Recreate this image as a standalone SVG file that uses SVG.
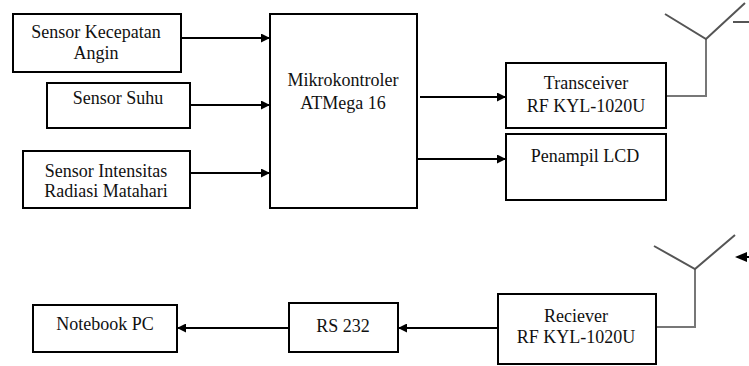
<svg xmlns="http://www.w3.org/2000/svg" width="749" height="366" viewBox="0 0 749 366">
<style>
.box{fill:#fff;stroke:#000;stroke-width:2}
.t{font-family:'Liberation Serif','Times New Roman',serif;font-size:18px;fill:#111;text-anchor:middle}
.ln{stroke:#000;stroke-width:2;fill:none}
.ant{stroke:#777;stroke-width:2;fill:none}
</style>
<defs>
<marker id="ah" viewBox="0 0 10 10" refX="10" refY="5" markerWidth="10" markerHeight="9" markerUnits="userSpaceOnUse" orient="auto">
<path d="M0,0 L10,5 L0,10 Z" fill="#000"/>
</marker>
</defs>
<rect width="749" height="366" fill="#fff"/>
<g id="connectors">
<line class="ln" x1="181" y1="38" x2="270" y2="38" marker-end="url(#ah)"/>
<line class="ln" x1="190" y1="105" x2="270" y2="105" marker-end="url(#ah)"/>
<line class="ln" x1="190" y1="173" x2="270" y2="173" marker-end="url(#ah)"/>
<line class="ln" x1="420" y1="97" x2="506" y2="97" marker-end="url(#ah)"/>
<line class="ln" x1="417" y1="159" x2="506" y2="159" marker-end="url(#ah)"/>
<line class="ln" x1="289" y1="328" x2="177" y2="328" marker-end="url(#ah)"/>
<line class="ln" x1="498" y1="328" x2="398" y2="328" marker-end="url(#ah)"/>
<polyline class="ant" points="666,96 706,96 706,39"/>
<polyline class="ant" points="656,327 695,327 695,269"/>
<line x1="733" y1="22" x2="749" y2="22" stroke="#555" stroke-width="2"/>
<path d="M735,257 L747,252 L747,262 Z" fill="#000"/>
<line x1="746" y1="257" x2="749" y2="257" stroke="#000" stroke-width="2"/>
</g>
<g id="antenna1">
<polyline points="665,14 706,39 745,3" stroke="#555" stroke-width="2" fill="none"/>
</g>
<g id="antenna2">
<polyline points="654,246 695,269 735,235" stroke="#555" stroke-width="2" fill="none"/>
</g>
<g id="sensor-angin">
<rect class="box" x="13" y="14" width="168" height="58"/>
<text class="t" x="96" y="38">Sensor Kecepatan</text>
<text class="t" x="96" y="59">Angin</text>
</g>
<g id="sensor-suhu">
<rect class="box" x="47" y="83" width="143" height="45"/>
<text class="t" x="118" y="104">Sensor Suhu</text>
</g>
<g id="sensor-intensitas">
<rect class="box" x="23" y="151" width="167" height="57"/>
<text class="t" x="106" y="177">Sensor Intensitas</text>
<text class="t" x="106" y="197">Radiasi Matahari</text>
</g>
<g id="mikrokontroler">
<rect class="box" x="270" y="14" width="147" height="194"/>
<text class="t" x="343" y="86">Mikrokontroler</text>
<text class="t" x="343" y="109">ATMega 16</text>
</g>
<g id="transceiver">
<rect class="box" x="506" y="63" width="160" height="65"/>
<text class="t" x="586" y="89">Transceiver</text>
<text class="t" x="586" y="112">RF KYL-1020U</text>
</g>
<g id="lcd">
<rect class="box" x="506" y="134" width="160" height="66"/>
<text class="t" x="585" y="162">Penampil LCD</text>
</g>
<g id="notebook">
<rect class="box" x="33" y="305" width="144" height="47"/>
<text class="t" x="105" y="330">Notebook PC</text>
</g>
<g id="rs232">
<rect class="box" x="289" y="303" width="109" height="49"/>
<text class="t" x="343" y="332">RS 232</text>
</g>
<g id="receiver">
<rect class="box" x="498" y="294" width="158" height="70"/>
<text class="t" x="576" y="322">Reciever</text>
<text class="t" x="576" y="343">RF KYL-1020U</text>
</g>
</svg>
